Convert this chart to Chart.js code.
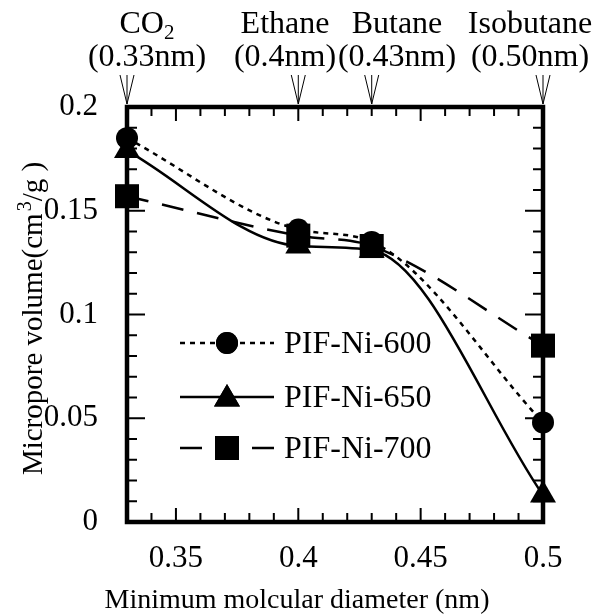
<!DOCTYPE html>
<html lang="en">
<head>
<meta charset="UTF-8">
<title>Micropore volume vs molecular diameter</title>
<style>
  html, body { margin: 0; padding: 0; background: #fff; }
  #wrap { width: 596px; height: 615px; }
</style>
<script src="https://cdn.jsdelivr.net/npm/chart.js"></script>
</head>
<body>
<div id="wrap"><canvas id="chart" width="596" height="615"></canvas></div>
<script>
// data
const diameters = [0.33, 0.4, 0.43, 0.5];
const molecules = ['CO2', 'Ethane', 'Butane', 'Isobutane'];
const diameterLabels = ['(0.33nm)', '(0.4nm)', '(0.43nm)', '(0.50nm)'];
const seriesNames = ['PIF-Ni-600', 'PIF-Ni-650', 'PIF-Ni-700'];
const ni600 = [0.185, 0.141, 0.135, 0.048];
const ni650 = [0.179, 0.133, 0.131, 0.013];
const ni700 = [0.157, 0.138, 0.133, 0.085];
const xTicks = [0.35, 0.4, 0.45, 0.5];
const yTicks = [0, 0.05, 0.1, 0.15, 0.2];

const FONT = '"Liberation Serif", "Times New Roman", serif';

function pts(vals) {
  return diameters.map((d, i) => ({ x: d, y: vals[i] }));
}

const styles = [
  { dash: [5, 5], point: 'circle', radius: 11 },
  { dash: [], point: 'triangle', radius: 15 },
  { dash: [22, 14], point: 'rect', radius: 17 }
];

// frame, inward ticks, arrows, titles, legend
const decor = {
  id: 'decor',
  beforeDatasetsDraw(chart) {
    const { ctx, chartArea: a, scales: { x, y } } = chart;
    ctx.save();
    ctx.strokeStyle = '#000';
    ctx.lineWidth = 2;
    // x ticks every 0.01
    for (let i = 34; i <= 49; i++) {
      const v = i / 100;
      const px = x.getPixelForValue(v);
      const len = (i % 5 === 0) ? 14 : 9;
      ctx.beginPath();
      ctx.moveTo(px, a.bottom); ctx.lineTo(px, a.bottom - len);
      ctx.moveTo(px, a.top); ctx.lineTo(px, a.top + len);
      ctx.stroke();
    }
    // y ticks every 0.01
    for (let i = 1; i <= 19; i++) {
      const v = i / 100;
      const py = y.getPixelForValue(v);
      const len = (i % 5 === 0) ? 18 : 10;
      ctx.beginPath();
      ctx.moveTo(a.left, py); ctx.lineTo(a.left + len, py);
      ctx.moveTo(a.right, py); ctx.lineTo(a.right - len, py);
      ctx.stroke();
    }
    ctx.lineWidth = 4.5;
    ctx.strokeRect(a.left, a.top, a.right - a.left, a.bottom - a.top);

    // arrows pointing at each gas
    ctx.lineWidth = 1;
    diameters.forEach(d => {
      const px = x.getPixelForValue(d);
      ctx.beginPath();
      ctx.moveTo(px - 7, a.top - 32); ctx.lineTo(px, a.top - 3);
      ctx.lineTo(px + 7, a.top - 32);
      ctx.moveTo(px, a.top - 32); ctx.lineTo(px, a.top - 3);
      ctx.stroke();
    });

    // top labels
    ctx.fillStyle = '#000';
    ctx.textAlign = 'center';
    ctx.textBaseline = 'alphabetic';
    const big = '32px ' + FONT, small = '21px ' + FONT;
    ctx.font = big;
    const labelCx = [147, 285, 397, 530];
    molecules.forEach((m, i) => {
      const cx = labelCx[i];
      if (m === 'CO2') {
        const w1 = ctx.measureText('CO').width;
        ctx.font = small;
        const w2 = ctx.measureText('2').width;
        const start = cx - (w1 + w2) / 2;
        ctx.textAlign = 'left';
        ctx.font = big;
        ctx.fillText('CO', start, 33);
        ctx.font = small;
        ctx.fillText('2', start + w1, 39);
        ctx.font = big;
        ctx.textAlign = 'center';
      } else {
        ctx.fillText(m, cx, 33);
      }
      ctx.fillText(diameterLabels[i], cx, 66);
    });

    // axis titles
    ctx.font = '28px ' + FONT;
    ctx.fillText('Minimum molcular diameter (nm)', 297, 608);

    ctx.save();
    ctx.translate(42, (a.top + a.bottom) / 2 + 4);
    ctx.rotate(-Math.PI / 2);
    const p1 = 'Micropore volume(cm';
    const p2 = '3';
    const p3 = '/g )';
    ctx.font = '29px ' + FONT;
    const w1 = ctx.measureText(p1).width;
    ctx.font = '20px ' + FONT;
    const w2 = ctx.measureText(p2).width + 2;
    ctx.font = '29px ' + FONT;
    const w3 = ctx.measureText(p3).width;
    const sx = -(w1 + w2 + w3) / 2;
    ctx.textAlign = 'left';
    ctx.fillText(p1, sx, 0);
    ctx.font = '20px ' + FONT;
    ctx.fillText(p2, sx + w1 + 2, -11);
    ctx.font = '29px ' + FONT;
    ctx.fillText(p3, sx + w1 + w2, 0);
    ctx.restore();

    // legend inside the plot
    const rows = [343, 397, 448];
    ctx.font = '32px ' + FONT;
    ctx.textAlign = 'left';
    ctx.textBaseline = 'middle';
    seriesNames.forEach((name, i) => {
      const st = styles[i];
      const yy = rows[i];
      ctx.lineWidth = 2.5;
      ctx.setLineDash(st.dash);
      ctx.beginPath();
      ctx.moveTo(180, yy); ctx.lineTo(274, yy);
      ctx.stroke();
      ctx.setLineDash([]);
      ctx.fillText(name, 284, yy + 2);
    });
    ctx.restore();
  },
  afterDatasetsDraw(chart) {
    const { ctx } = chart;
    const rows = [343, 397, 448];
    styles.forEach((st, i) => {
      ctx.save();
      ctx.fillStyle = '#000';
      Chart.helpers.drawPoint(ctx, { pointStyle: st.point, radius: st.radius, rotation: 0, borderWidth: 0 }, 227, rows[i] + (st.point === 'triangle' ? 2 : 0));
      ctx.fill();
      ctx.restore();
    });
  }
};

const datasets = [ni600, ni650, ni700].map((vals, i) => ({
  label: seriesNames[i],
  data: pts(vals),
  borderColor: '#000',
  backgroundColor: '#000',
  borderWidth: 2.5,
  borderDash: styles[i].dash,
  pointStyle: styles[i].point,
  pointRadius: styles[i].radius,
  pointBorderWidth: 0,
  pointBackgroundColor: '#000',
  cubicInterpolationMode: 'monotone',
  clip: false
}));

new Chart(document.getElementById('chart'), {
  type: 'line',
  data: { datasets },
  options: {
    responsive: false,
    animation: false,
    layout: { padding: { top: 107, right: 53, left: 0, bottom: 0 } },
    plugins: { legend: { display: false }, tooltip: { enabled: false } },
    scales: {
      x: {
        type: 'linear',
        min: 0.33,
        max: 0.5,
        grid: { display: false, drawTicks: false },
        border: { display: false },
        afterBuildTicks: s => { s.ticks = xTicks.map(v => ({ value: v })); },
        afterFit: s => { s.height = 93; },
        ticks: {
          color: '#000',
          padding: 18,
          font: { family: FONT, size: 31 },
          maxRotation: 0,
          callback: v => String(+v.toFixed(2))
        }
      },
      y: {
        min: 0,
        max: 0.2,
        grid: { display: false, drawTicks: false },
        border: { display: false },
        afterBuildTicks: s => { s.ticks = yTicks.map(v => ({ value: v })); },
        afterFit: s => { s.width = 127; },
        ticks: {
          color: '#000',
          padding: 29,
          font: { family: FONT, size: 31 },
          callback: v => String(+v.toFixed(2))
        }
      }
    }
  },
  plugins: [decor]
});
</script>
</body>
</html>
